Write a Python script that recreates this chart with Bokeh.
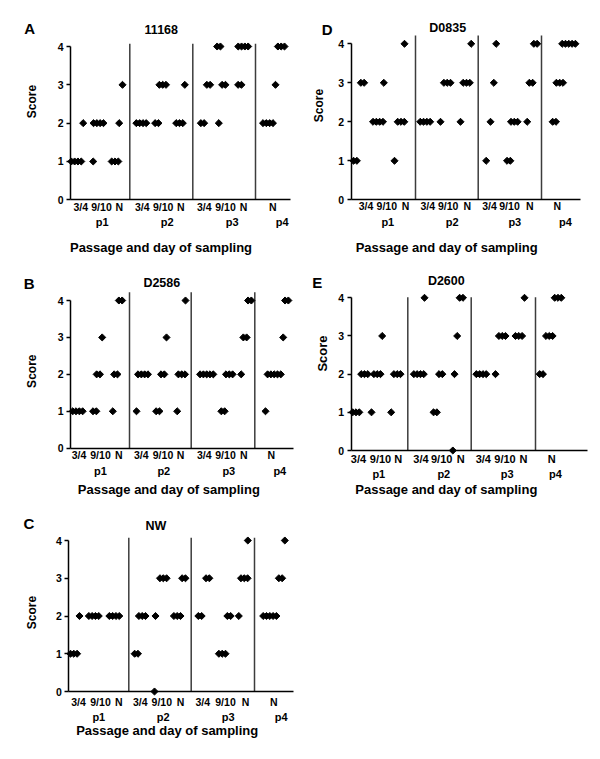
import numpy as np
from bokeh.plotting import figure
from bokeh.models import (FixedTicker, LinearAxis, CustomJSTickFormatter,
                          Label, Range1d)
from bokeh.layouts import column, row
from bokeh.embed import file_html
from bokeh.resources import INLINE

FONT = "Liberation Sans"

# ---------------- data ----------------
day_labels = ["3/4", "9/10", "N", "3/4", "9/10", "N", "3/4", "9/10", "N", "N"]
passage_labels = ["p1", "p2", "p3", "p4"]
score_ticks = [0, 1, 2, 3, 4]

# Panel A : 11168  (x = sample position along the passage axis, score, number of samples)
A_title = "11168"
A_x = [0.58, 1.27, 2.27, 2.8, 4.45, 4.87, 5.2, 7.08, 8.63, 9.22, 10.9, 11.43,
       13.2, 13.8, 14.83, 14.83, 15.33, 16.93, 17.27, 19.75, 20.5, 21.07]
A_score = [1, 2, 1, 2, 1, 2, 3, 2, 2, 3, 2, 3,
           2, 3, 2, 4, 3, 3, 4, 2, 3, 4]
A_n = [4, 1, 1, 4, 3, 1, 1, 4, 2, 3, 3, 1,
       2, 2, 1, 2, 2, 2, 4, 4, 1, 3]
A_sep = [5.93, 12.23, 18.5]
A_day_pos = [1.03, 3.1, 4.87, 7.17, 9.27, 11.03, 13.38, 15.5, 17.3, 20.22]
A_pass_pos = [3.17, 9.67, 16.17, 21.17]

# Panel B : D2586
B_title = "D2586"
B_x = [0.72, 2.42, 2.78, 3.17, 4.23, 4.53, 5.0, 6.6, 7.25, 8.73, 9.22, 9.6,
       10.67, 11.12, 11.5, 13.62, 15.25, 15.88, 17.07, 17.45, 17.92, 19.5,
       20.37, 21.27, 21.62]
B_score = [1, 1, 2, 3, 1, 2, 4, 1, 2, 1, 2, 3,
           1, 2, 4, 2, 1, 2, 2, 3, 4, 1,
           2, 3, 4]
B_n = [4, 2, 2, 1, 1, 2, 2, 1, 4, 2, 2, 1,
       1, 3, 1, 5, 2, 3, 1, 2, 2, 1,
       5, 1, 2]
B_sep = [5.9, 12.07, 18.43]
B_day_pos = [0.85, 3.0, 4.83, 7.08, 9.25, 11.0, 13.38, 15.5, 17.33, 20.07]
B_pass_pos = [3.0, 9.33, 15.83, 20.93]

# Panel C : NW
C_title = "NW"
C_x = [0.5, 1.07, 2.5, 4.55, 6.75, 7.34, 8.57, 8.67, 9.45, 10.84, 11.5,
       13.12, 13.89, 15.34, 16.02, 17.0, 17.55, 17.9, 20.1, 21.17, 21.6]
C_score = [1, 2, 2, 2, 1, 2, 0, 2, 3, 2, 3,
           2, 3, 1, 2, 2, 3, 4, 2, 3, 4]
C_n = [3, 1, 4, 4, 2, 3, 1, 1, 3, 3, 2,
       2, 2, 3, 2, 1, 3, 1, 5, 2, 1]
C_sep = [6.0, 12.24, 18.57]
C_day_pos = [0.97, 3.17, 5.0, 7.14, 9.3, 11.17, 13.4, 15.67, 17.67, 20.5]
C_pass_pos = [3.0, 9.44, 15.94, 21.24]

# Panel D : D0835
D_title = "D0835"
D_x = [0.4, 1.13, 2.68, 3.26, 4.33, 4.98, 5.33, 7.4, 8.93, 9.6, 10.93, 11.53,
       12.0, 13.5, 13.93, 14.26, 14.5, 15.75, 16.31, 17.6, 17.98, 18.43,
       20.31, 20.85, 21.76]
D_score = [1, 3, 2, 3, 1, 2, 4, 2, 2, 3, 2, 3,
           4, 1, 2, 3, 4, 1, 2, 2, 3, 4,
           2, 3, 4]
D_n = [2, 2, 4, 1, 1, 3, 1, 4, 1, 3, 1, 3,
       1, 1, 1, 1, 1, 2, 3, 1, 2, 2,
       2, 3, 5]
D_sep = [6.43, 12.7, 19.03]
D_day_pos = [1.48, 3.56, 5.43, 7.66, 9.7, 11.6, 13.83, 15.83, 17.86, 20.6]
D_pass_pos = [3.66, 10.1, 16.36, 21.43]

# Panel E : D2600
E_title = "D2600"
E_x = [0.48, 1.33, 2.03, 2.6, 3.1, 4.0, 4.6, 6.76, 7.33, 8.4, 8.95, 10.16,
       10.33, 10.6, 11.01, 13.01, 14.43, 15.1, 16.76, 17.33, 19.01, 19.81, 20.68]
E_score = [1, 2, 1, 2, 3, 1, 2, 2, 4, 1, 2, 0,
           2, 3, 4, 2, 2, 3, 3, 4, 2, 3, 4]
E_n = [3, 3, 1, 3, 1, 1, 3, 4, 1, 2, 2, 1,
       1, 1, 2, 4, 1, 3, 3, 1, 2, 3, 3]
E_sep = [5.66, 12.0, 18.43]
E_day_pos = [0.73, 2.93, 4.71, 6.98, 9.05, 10.96, 13.21, 15.38, 17.23, 20.05]
E_pass_pos = [2.76, 9.26, 15.6, 20.43]

# ---------------- layout (page pixel geometry) ----------------
SPREAD = 0.33      # horizontal spacing of overlapping samples (beeswarm layout)
HALF = 6           # half height of a tick label


def tick_axis(ticks, labels, standoff, size, line_end=None):
    ax = LinearAxis(fixed_location=0,
                    ticker=FixedTicker(ticks=ticks, minor_ticks=[]),
                    formatter=CustomJSTickFormatter(args=dict(labels=labels),
                                                    code="return labels[index];"),
                    major_tick_line_color=None, minor_tick_line_color=None,
                    major_tick_out=0, major_tick_in=0,
                    minor_tick_out=0, minor_tick_in=0,
                    major_label_standoff=standoff,
                    major_label_text_font=FONT, major_label_text_font_style="bold",
                    major_label_text_font_size=size, major_label_text_color="black")
    if line_end is None:
        ax.axis_line_color = None
    else:
        ax.axis_line_color = "black"
        ax.axis_line_width = 1.5
        ax.bounds = (0, line_end)
    return ax


def make_panel(letter, title, xs, scores, ns, seps, day_pos, pass_pos, g):
    unit = (g["y0"] - g["y4"]) / 4.0

    def dx(px):
        return (px - g["ax_x"]) / 10.0

    def dy(py):
        return (g["y0"] - py) / unit

    fx0, fx1 = g["fig_x"], g["fig_x"] + g["fig_w"]
    fy0, fy1 = g["fig_y"], g["fig_y"] + g["fig_h"]
    p = figure(frame_width=g["fig_w"], frame_height=g["fig_h"], min_border=0,
               x_range=Range1d(dx(fx0), dx(fx1)), y_range=Range1d(dy(fy1), dy(fy0)),
               output_backend="svg", toolbar_location=None, tools="",
               x_axis_location=None, y_axis_location=None,
               background_fill_color="white", border_fill_color="white")
    p.title.visible = False
    p.outline_line_color = None
    p.grid.visible = False

    yax = LinearAxis(fixed_location=0,
                     ticker=FixedTicker(ticks=score_ticks, minor_ticks=[]),
                     bounds=(0, 4), axis_line_color="black", axis_line_width=1.5,
                     major_tick_line_color="black", major_tick_line_width=1.5,
                     major_tick_out=4, major_tick_in=0, minor_tick_line_color=None,
                     major_label_standoff=3, major_label_text_font=FONT,
                     major_label_text_font_style="bold",
                     major_label_text_font_size="10.5px",
                     major_label_text_color="black")
    p.add_layout(yax, "left")

    so1 = round(g["row1"] - g["y0"] - HALF)
    so2 = round(g["row2"] - g["y0"] - HALF)
    p.add_layout(tick_axis(day_pos, day_labels, so1, g["day_size"],
                           line_end=dx(g["ax_r"])), "below")
    p.add_layout(tick_axis(pass_pos, passage_labels, so2, "11px"), "below")

    # separators between passages
    p.segment(x0=seps, y0=[0] * len(seps), x1=seps,
              y1=[dy(g["sep_top"])] * len(seps),
              line_color="#3c3c3c", line_width=1.5)

    px_, py_ = [], []
    for x, s, n in zip(xs, scores, ns):
        for i in range(n):
            px_.append(x + (i - (n - 1) / 2.0) * SPREAD)
            py_.append(s)
    p.scatter(px_, py_, marker="square", size=5, angle=np.pi / 4,
              fill_color="black", line_color="black")

    def lab(text, xy, size, angle=0.0):
        p.add_layout(Label(x=dx(xy[0]), y=dy(xy[1]), text=text, angle=angle,
                           text_align="center", text_baseline="middle",
                           text_font=FONT, text_font_style="bold",
                           text_font_size=size, text_color="black"))

    lab(letter, g["letter"], "15px")
    lab(title, g["title"], "12.5px")
    lab("Score", g["score"], g["score_size"], angle=np.pi / 2)
    lab("Passage and day of sampling", g["passage"], "13px")
    return p


geoA = dict(fig_x=0, fig_y=0, fig_w=296, fig_h=255, ax_x=70, ax_r=290,
            y0=199.3, y4=46, sep_top=43.3, letter=(29.2, 28.3), title=(160.8, 29),
            score=(31.7, 101), passage=(160.5, 246.7), score_size="12px",
            row1=206.7, row2=221.3, day_size="10.5px")
geoD = dict(fig_x=296, fig_y=0, fig_w=296, fig_h=255, ax_x=350.7, ax_r=580,
            y0=199.3, y4=43.3, sep_top=35, letter=(326.7, 28.7), title=(447.2, 27.5),
            score=(318.7, 105), passage=(446.2, 246.7), score_size="12px",
            row1=205, row2=221, day_size="10.5px")
geoB = dict(fig_x=0, fig_y=255, fig_w=296, fig_h=242, ax_x=70, ax_r=293,
            y0=447.7, y4=300, sep_top=291.7, letter=(28.7, 282.5), title=(161.3, 282.3),
            score=(31.7, 370.7), passage=(168.3, 489.3), score_size="12px",
            row1=455, row2=470.7, day_size="10.5px")
geoE = dict(fig_x=296, fig_y=255, fig_w=296, fig_h=242, ax_x=350.7, ax_r=586.7,
            y0=450, y4=297.3, sep_top=296.7, letter=(316.7, 281.7), title=(445.8, 280),
            score=(321.7, 353), passage=(445.8, 489.3), score_size="13px",
            row1=458, row2=473, day_size="11px")
geoC = dict(fig_x=0, fig_y=497, fig_w=296, fig_h=254, ax_x=68.3, ax_r=292.7,
            y0=691, y4=540, sep_top=537.3, letter=(28.3, 523), title=(155.5, 525.8),
            score=(31.7, 612), passage=(166.7, 730), score_size="12px",
            row1=701, row2=715.7, day_size="10.5px")

pA = make_panel("A", A_title, A_x, A_score, A_n, A_sep, A_day_pos, A_pass_pos, geoA)
pB = make_panel("B", B_title, B_x, B_score, B_n, B_sep, B_day_pos, B_pass_pos, geoB)
pC = make_panel("C", C_title, C_x, C_score, C_n, C_sep, C_day_pos, C_pass_pos, geoC)
pD = make_panel("D", D_title, D_x, D_score, D_n, D_sep, D_day_pos, D_pass_pos, geoD)
pE = make_panel("E", E_title, E_x, E_score, E_n, E_sep, E_day_pos, E_pass_pos, geoE)

layout = column(row(pA, pD, spacing=0), row(pB, pE, spacing=0), row(pC, spacing=0),
                spacing=0)

open("out.html", "w").write(file_html(layout, INLINE))
